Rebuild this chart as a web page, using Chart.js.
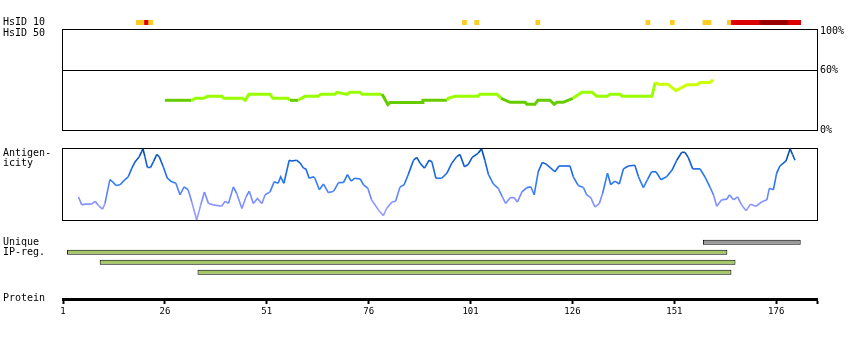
<!DOCTYPE html>
<html>
<head>
<meta charset="utf-8">
<script src="https://cdn.jsdelivr.net/npm/chart.js@4/dist/chart.umd.min.js"></script>
<style>
  body { margin: 0; background: #fff; }
  #wrap { position: relative; width: 850px; height: 340px; font-family: "DejaVu Sans Mono", monospace; font-size: 10px; color: #000; }
  #wrap canvas { position: absolute; left: 0; }
  .lbl { position: absolute; left: 3px; line-height: 10px; white-space: pre; }
</style>
</head>
<body>
<div id="wrap">
  <canvas id="hsid10" width="850" height="30" style="top:0px"></canvas>
  <canvas id="hsid50" width="850" height="120" style="top:20px"></canvas>
  <canvas id="antigen" width="850" height="90" style="top:140px"></canvas>
  <canvas id="ipreg" width="850" height="50" style="top:230px"></canvas>
  <canvas id="protein" width="850" height="45" style="top:280px"></canvas>

  <div class="lbl" style="top:17px">HsID 10</div>
  <div class="lbl" style="top:28px">HsID 50</div>
  <div class="lbl" style="top:148px">Antigen-</div>
  <div class="lbl" style="top:158px">icity</div>
  <div class="lbl" style="top:237px">Unique</div>
  <div class="lbl" style="top:247px">IP-reg.</div>
  <div class="lbl" style="top:293px">Protein</div>
</div>

<script>
// protein length / axis
const proteinMin = 1;
const proteinMax = 186;
const proteinTicks = [1, 26, 51, 76, 101, 126, 151, 176];

// HsID 10 hits (residue ranges, inclusive) and identity level 1..3
const hsid10Start = [19, 21, 22, 99, 102, 117, 144, 150, 158, 164, 165, 172, 179];
const hsid10End   = [20, 21, 22, 99, 102, 117, 144, 150, 159, 164, 171, 178, 181];
const hsid10Level = [1, 2, 1, 1, 1, 1, 1, 1, 1, 1, 2, 3, 2];

// HsID 50 profile (residue, %)
const hsid50Pos = [26, 32.5, 33.5, 35.5, 36.5, 40, 40.5, 45, 45.7, 46.6, 51.8, 52.5, 56.2, 56.7, 58.7, 59.5,
  60.4, 63.6, 64.3, 67.7, 68.2, 70.7, 71.4, 73.9, 74.4, 79.3, 80.7, 81.2, 89.1, 89.3, 95.2, 95.5,
  97.2, 102.8, 103.3, 107.5, 108.5, 110.7, 114.4, 114.8, 116.8, 117.5, 120.5, 121.5, 122.2, 123.7,
  126.1, 128.3, 130.8, 132, 134.5, 135.2, 137.7, 138.2, 145.5, 146.3, 147, 149.4, 151.4, 154.1,
  156.6, 157.3, 159.7, 160.5];
const hsid50Val = [30, 30, 32, 32, 34, 34, 32, 32, 30, 36, 36, 32, 32, 30, 30, 32,
  34, 34, 36, 36, 38, 36, 38, 38, 36, 36, 25.7, 27.7, 27.7, 30, 30, 32,
  34, 34, 36, 36, 32, 28, 28, 26, 26, 30, 30, 26, 28, 28,
  32, 38, 38, 34, 34, 36, 36, 34, 34, 48, 46.3, 46.3, 39.7, 45.7,
  45.7, 48, 48, 50.7];
const hsid50Ticks = [0, 60, 100];

// antigenicity profile (residue, relative score 0..1)
const agPos = [4.8, 5.6, 6.4, 8.0, 8.9, 9.7, 10.7, 11.3, 12.5, 13.2, 14.0, 15.0, 16.2, 17.0, 17.9, 18.7,
  19.7, 20.3, 20.6, 21.1, 21.7, 22.5, 23.2, 24.0, 24.6, 25.6, 26.6, 27.7, 28.7, 29.7, 30.7, 31.7,
  32.6, 33.8, 34.8, 35.7, 36.7, 37.9, 39.9, 40.8, 41.6, 42.8, 43.6, 44.9, 45.9, 46.7, 47.7, 48.7,
  49.8, 50.6, 51.8, 52.8, 53.8, 54.4, 55.2, 56.5, 57.1, 58.3, 59.2, 60.0, 60.6, 61.4, 62.4, 62.8,
  63.9, 64.9, 66.1, 67.4, 68.6, 69.8, 70.8, 71.7, 72.6, 73.9, 74.7, 75.8, 76.7, 78.4, 79.6, 80.4,
  81.7, 82.6, 83.7, 84.7, 85.7, 87.0, 87.8, 88.6, 89.7, 90.8, 91.5, 92.5, 93.9, 95.2, 96.4, 97.6,
  98.4, 99.5, 100.4, 101.4, 102.9, 103.7, 104.5, 105.4, 106.6, 107.8, 108.8, 109.6, 110.7, 111.7, 112.5, 113.6,
  114.8, 115.8, 116.6, 117.6, 118.6, 119.7, 121.7, 122.7, 125.0, 125.4, 126.2, 127.4, 128.7, 129.5, 130.5, 131.5,
  132.6, 133.4, 134.6, 135.4, 136.4, 137.5, 138.5, 139.7, 141.3, 142.2, 143.4, 144.4, 145.4, 146.5, 147.7, 149.1,
  150.4, 151.6, 152.8, 153.6, 154.4, 155.5, 157.3, 158.5, 159.8, 160.6, 161.4, 162.6, 163.9, 164.5, 165.5, 166.5,
  167.5, 168.6, 169.7, 171.0, 172.4, 173.7, 174.3, 175.3, 176.1, 176.9, 178.4, 179.4, 180.0, 180.6];
const agVal = [0.32, 0.21, 0.22, 0.22, 0.26, 0.20, 0.15, 0.23, 0.56, 0.53, 0.48, 0.49, 0.56, 0.60, 0.72, 0.81,
  0.88, 0.95, 0.99, 0.88, 0.73, 0.73, 0.81, 0.91, 0.88, 0.74, 0.58, 0.53, 0.51, 0.35, 0.46, 0.42,
  0.25, 0.00, 0.21, 0.39, 0.23, 0.21, 0.19, 0.26, 0.23, 0.46, 0.37, 0.16, 0.32, 0.40, 0.23, 0.30,
  0.23, 0.35, 0.39, 0.53, 0.51, 0.60, 0.51, 0.83, 0.82, 0.83, 0.79, 0.72, 0.71, 0.58, 0.60, 0.58,
  0.42, 0.50, 0.38, 0.40, 0.52, 0.52, 0.63, 0.54, 0.58, 0.57, 0.49, 0.44, 0.28, 0.14, 0.06, 0.16,
  0.25, 0.26, 0.46, 0.49, 0.63, 0.83, 0.87, 0.79, 0.72, 0.83, 0.81, 0.58, 0.58, 0.65, 0.79, 0.88,
  0.91, 0.74, 0.77, 0.87, 0.93, 0.99, 0.83, 0.63, 0.50, 0.44, 0.32, 0.23, 0.31, 0.31, 0.25, 0.39,
  0.45, 0.46, 0.35, 0.67, 0.80, 0.77, 0.67, 0.75, 0.75, 0.75, 0.60, 0.48, 0.45, 0.35, 0.31, 0.18,
  0.23, 0.37, 0.65, 0.49, 0.54, 0.50, 0.71, 0.75, 0.76, 0.60, 0.45, 0.56, 0.67, 0.67, 0.56, 0.60,
  0.69, 0.83, 0.94, 0.94, 0.87, 0.71, 0.71, 0.60, 0.45, 0.35, 0.19, 0.28, 0.29, 0.35, 0.28, 0.32,
  0.21, 0.13, 0.22, 0.19, 0.25, 0.28, 0.44, 0.42, 0.65, 0.75, 0.82, 0.99, 0.91, 0.83];

// unique region + InterPro regions (residue ranges, inclusive)
const ipRows  = ['Unique', 'IP-reg. a', 'IP-reg. b', 'IP-reg. c'];
const ipStart = [158, 2, 10, 34];
const ipEnd   = [181, 163, 165, 164];
const ipKind  = ['unique', 'ipr', 'ipr', 'ipr'];

Chart.defaults.font.family = '"DejaVu Sans Mono", monospace';
Chart.defaults.font.size = 10;
Chart.defaults.color = '#000';
Chart.defaults.animation = false;
Chart.defaults.responsive = false;
Chart.defaults.plugins.legend.display = false;
Chart.defaults.plugins.tooltip.enabled = false;

const levelColors = { 1: '#ffcc22', 2: '#dd0000', 3: '#990000' };
const ipColors = { unique: '#999999', ipr: '#a4c964' };

// black box around the plot area
const frame = {
  id: 'frame',
  beforeDatasetsDraw(chart) {
    const a = chart.chartArea, ctx = chart.ctx;
    ctx.save();
    ctx.strokeStyle = '#000';
    ctx.lineWidth = 1;
    ctx.strokeRect(Math.round(a.left) - 0.5, Math.round(a.top) + 0.5,
      Math.round(a.right - a.left) + 1, Math.round(a.bottom - a.top));
    ctx.restore();
  }
};

const residueAxis = { type: 'linear', min: proteinMin, max: proteinMax, display: false };

function greenFor(v) {
  if (v < 31) return '#66cc00';
  if (v < 42) return '#99ff00';
  return '#ccff00';
}

function blueFor(v) {
  const stops = [[0, [165, 165, 255]], [0.3, [125, 140, 255]], [0.5, [50, 125, 245]],
    [0.75, [20, 100, 225]], [1, [0, 70, 150]]];
  for (let i = 1; i < stops.length; i++) {
    if (v <= stops[i][0]) {
      const [a, ca] = stops[i - 1], [b, cb] = stops[i];
      const t = (v - a) / (b - a);
      const c = ca.map((x, k) => Math.round(x + (cb[k] - x) * t));
      return `rgb(${c[0]},${c[1]},${c[2]})`;
    }
  }
  return 'rgb(0,70,150)';
}

// HsID 10 strip
new Chart(document.getElementById('hsid10'), {
  type: 'bar',
  data: {
    labels: ['HsID 10'],
    datasets: [{
      data: hsid10Start.map((s, i) => ({ y: 'HsID 10', x: [s, hsid10End[i] + 1] })),
      backgroundColor: hsid10Level.map(l => levelColors[l]),
      borderWidth: 0,
      barPercentage: 1,
      categoryPercentage: 1
    }]
  },
  options: {
    indexAxis: 'y',
    layout: { padding: { left: 63, right: 33, top: 20, bottom: 5 } },
    scales: { x: residueAxis, y: { display: false } }
  }
});

// HsID 50 panel
new Chart(document.getElementById('hsid50'), {
  type: 'line',
  data: {
    datasets: [{
      data: hsid50Pos.map((p, i) => ({ x: p, y: hsid50Val[i] })),
      borderWidth: 3,
      pointRadius: 0,
      tension: 0,
      segment: { borderColor: c => greenFor((c.p0.parsed.y + c.p1.parsed.y) / 2) }
    }]
  },
  options: {
    layout: { padding: { left: 63, right: 0, top: 8, bottom: 10 } },
    scales: {
      x: residueAxis,
      y: {
        position: 'right',
        min: 0,
        max: 102,
        afterFit: s => { s.width = 33; },
        afterBuildTicks: s => { s.ticks = hsid50Ticks.map(v => ({ value: v })); },
        ticks: { padding: 3, callback: v => v + '%' },
        grid: {
          drawTicks: false,
          color: c => (c.tick && c.tick.value === 60 ? '#000' : 'rgba(0,0,0,0)')
        },
        border: { display: false }
      }
    }
  },
  plugins: [frame]
});

// antigenicity panel
new Chart(document.getElementById('antigen'), {
  type: 'line',
  data: {
    datasets: [{
      data: agPos.map((p, i) => ({ x: p, y: agVal[i] })),
      borderWidth: 1.6,
      pointRadius: 0,
      tension: 0,
      segment: { borderColor: c => blueFor((c.p0.parsed.y + c.p1.parsed.y) / 2) }
    }]
  },
  options: {
    layout: { padding: { left: 63, right: 33, top: 8, bottom: 10 } },
    scales: { x: residueAxis, y: { display: false, min: 0, max: 1 } }
  },
  plugins: [frame]
});

// unique / IP-reg bars
new Chart(document.getElementById('ipreg'), {
  type: 'bar',
  data: {
    labels: ipRows,
    datasets: [{
      data: ipStart.map((s, i) => ({ y: ipRows[i], x: [s, ipEnd[i] + 1] })),
      backgroundColor: ipKind.map(k => ipColors[k]),
      borderColor: '#000',
      borderWidth: 1,
      borderSkipped: false,
      barPercentage: 0.5,
      categoryPercentage: 1
    }]
  },
  options: {
    indexAxis: 'y',
    layout: { padding: { left: 63, right: 33, top: 7.3, bottom: 2.7 } },
    scales: { x: residueAxis, y: { display: false } }
  }
});

// protein ruler
new Chart(document.getElementById('protein'), {
  type: 'line',
  data: { datasets: [] },
  options: {
    layout: { padding: { left: 63, right: 33, top: 0, bottom: 0 } },
    scales: {
      x: {
        type: 'linear',
        min: proteinMin,
        max: proteinMax,
        afterFit: s => { s.height = 26; },
        afterBuildTicks: s => { s.ticks = proteinTicks.concat([proteinMax]).map(v => ({ value: v })); },
        ticks: {
          autoSkip: false,
          maxRotation: 0,
          padding: 2,
          font: { size: 9 },
          callback: v => (proteinTicks.includes(v) ? String(v) : '')
        },
        grid: { drawOnChartArea: false, drawTicks: true, tickLength: 5, tickWidth: 2, tickColor: '#000' },
        border: { display: true, color: '#000', width: 3 }
      },
      y: { display: false }
    }
  }
});
</script>
</body>
</html>
